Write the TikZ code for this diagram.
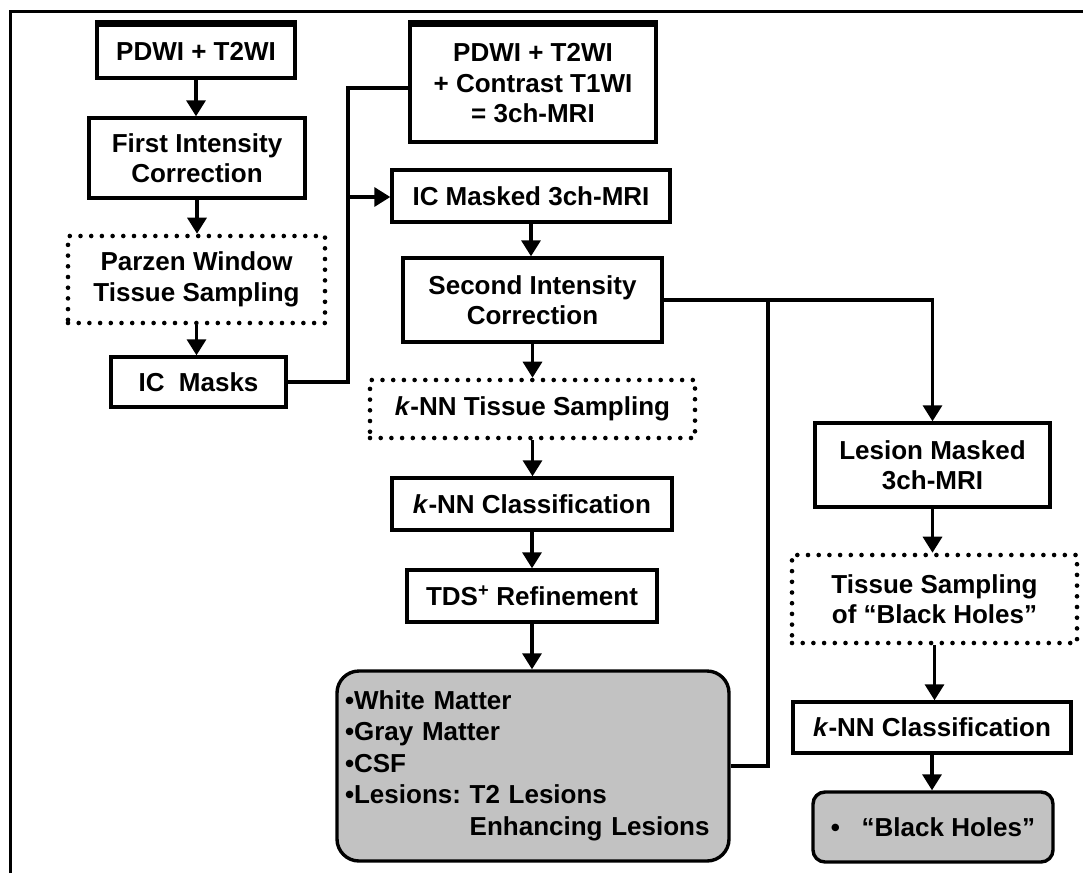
\documentclass[tikz,border=0pt]{standalone}
\usepackage{fontspec}
\setmainfont{Liberation Sans}
\usetikzlibrary{arrows.meta,calc}
\definecolor{boxgray}{RGB}{194,194,194}
\tikzset{
  box/.style={draw, line width=3.4pt, inner sep=0pt, align=center,
    font=\fontsize{26}{30.5}\selectfont\bfseries},
  dotbox/.style={box, line width=4.6pt, dash pattern=on 0pt off 10.7pt, line cap=round},
  graybox/.style={box, fill=boxgray, rounded corners=22pt},
  conn/.style={line width=3.4pt},
  arr/.style={conn, -{Triangle[width=19pt,length=16pt]}},
  topedge/.style={line width=6pt}
}
\begin{document}
\begin{tikzpicture}[x=1pt,y=-1pt]
\useasboundingbox (0,0) rectangle (1083,873);
\draw[line width=3pt] (10,873) -- (10,11) -- (1083,11);

% left column
\node[box, minimum width=198pt, minimum height=53pt] (n1) at (196,51.5) {PDWI + T2WI};
\node[box, minimum width=216pt, minimum height=80pt] (n2) at (197,158) {First Intensity\\Correction};
\node[dotbox, minimum width=257pt, minimum height=87pt] (n3) at (196.5,279.5) {Parzen Window\\Tissue Sampling};
\node[box, minimum width=175pt, minimum height=50pt] (n4) at (198.5,382) {IC~~Masks};

% middle column
\node[box, minimum width=246pt, minimum height=117pt] (n5) at (533,83.5) {PDWI + T2WI\\+ Contrast T1WI\\= 3ch-MRI};
\node[box, minimum width=278pt, minimum height=52pt] (n6) at (531,196) {IC Masked 3ch-MRI};
\node[box, minimum width=259pt, minimum height=84pt] (n7) at (532.5,300) {Second Intensity\\Correction};
\node[dotbox, minimum width=325pt, minimum height=58pt] (n8) at (532.5,409) {\textit{k}-NN Tissue Sampling};
\node[box, minimum width=280pt, minimum height=52pt] (n9) at (532,504) {\textit{k}-NN Classification};
\node[box, minimum width=250pt, minimum height=52pt] (n10) at (532,596) {TDS\textsuperscript{+} Refinement};
\node[graybox, minimum width=392pt, minimum height=190pt, text width=376pt, align=left] (n11) at (533,766)
  {\begin{tabular}{@{}l@{}l@{}}
   \multicolumn{2}{@{}l@{}}{•White Matter}\\[1pt]
   \multicolumn{2}{@{}l@{}}{•Gray Matter}\\[1pt]
   \multicolumn{2}{@{}l@{}}{•CSF}\\[1pt]
   •Lesions:~ & T2 Lesions\\[1pt]
   & Enhancing Lesions
   \end{tabular}};

% right column
\node[box, minimum width=235pt, minimum height=84pt] (n12) at (932.5,465) {Lesion Masked\\3ch-MRI};
\node[dotbox, minimum width=285pt, minimum height=88pt] (n13) at (934.5,599) {Tissue Sampling\\of “Black Holes”};
\node[box, minimum width=278pt, minimum height=51pt] (n14) at (932,727.5) {\textit{k}-NN Classification};
\node[graybox, minimum width=240pt, minimum height=70pt, rounded corners=12pt] (n15) at (933,827) {•~~~“Black Holes”};

% thick top edges
\draw[topedge] (n1.north west) -- (n1.north east);
\draw[topedge] (n5.north west) -- (n5.north east);

% junction coordinates
\coordinate (j1) at (348,88);
\coordinate (j2) at (348,197);
\coordinate (j3) at (768,300);

% connectors
\draw[arr] (n1.south) -- (n1.south |- n2.north);
\draw[arr] (n2.south) -- (n2.south |- n3.north);
\draw[arr] (n3.south) -- (n3.south |- n4.north);
\draw[conn] (n4.east) -| (j1) -- (j1 -| n5.west);
\draw[arr] (j2) -- (j2 -| n6.west);

\draw[arr] (n6.south) -- (n6.south |- n7.north);
\draw[arr] (n7.south) -- (n7.south |- n8.north);
\draw[arr] (n8.south) -- (n8.south |- n9.north);
\draw[arr] (n9.south) -- (n9.south |- n10.north);
\draw[arr] (n10.south) -- (n10.south |- n11.north);

\draw[arr] (n7.east) -| (n12.north);
\draw[conn] (n11.east) -| (j3);

\draw[arr] (n12.south) -- (n12.south |- n13.north);
\draw[arr] (n13.south) -- (n13.south |- n14.north);
\draw[arr] (n14.south) -- (n14.south |- n15.north);
\end{tikzpicture}
\end{document}
